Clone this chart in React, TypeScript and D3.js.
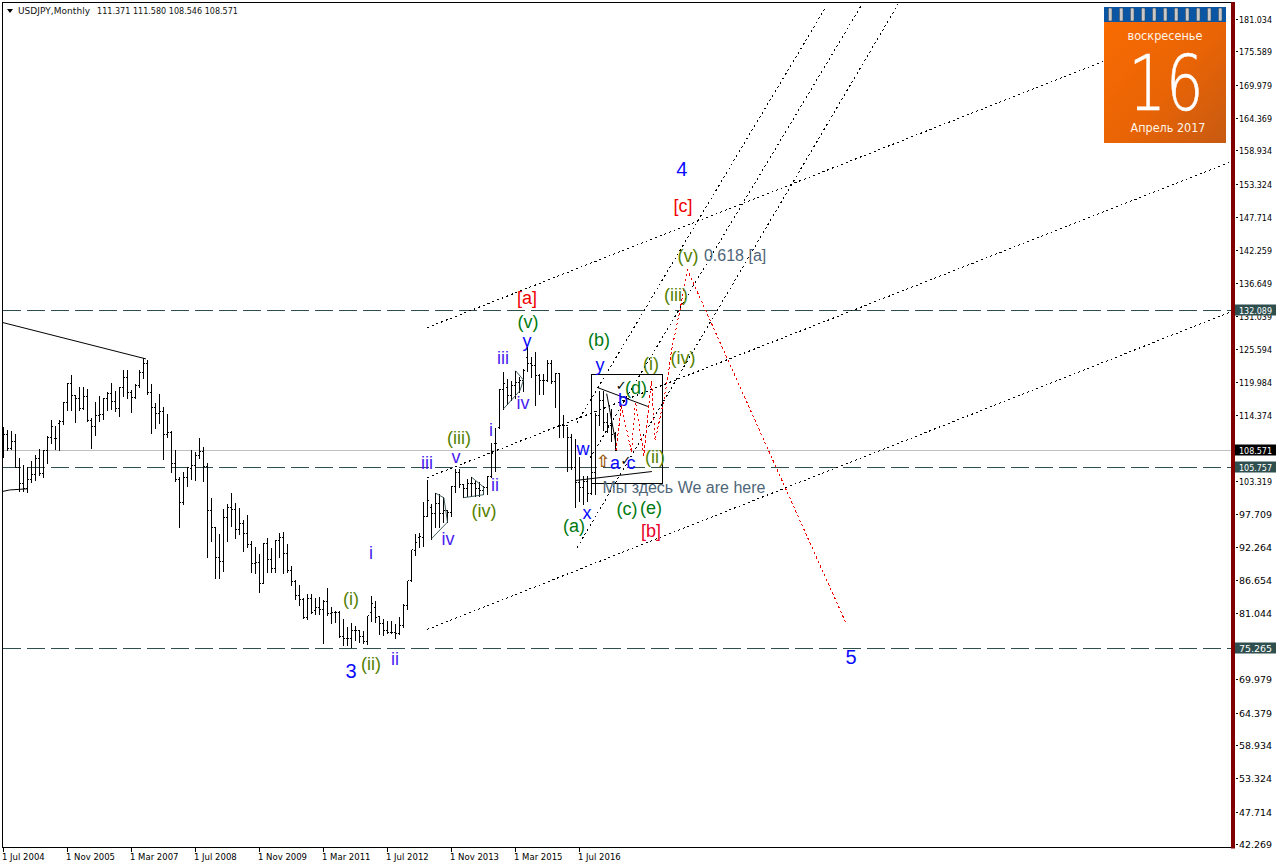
import React from "react";
import * as d3 from "d3";

const W = 1276, H = 868;

// Monthly USDJPY bars, Jul 2004 .. Apr 2017
const highs = [112.57,112.01,111.79,111.34,107.3,106.18,105.73,106.85,107.7,108.82,108.54,111.06,113.7,112.74,113.7,116.67,119.86,121.3,117.79,119.3,119.19,118.8,114.03,116.67,117.79,117.4,118.35,119.86,118.63,119.19,122.16,122.16,118.74,119.75,122.0,124.12,123.68,119.75,116.5,117.96,115.94,114.7,111.79,108.54,104.16,104.89,105.73,108.54,108.26,110.67,109.2,106.41,100.57,95.53,94.52,98.72,99.57,101.47,99.73,98.89,96.87,97.77,93.29,92.39,91.16,93.0,93.85,92.16,93.51,94.63,94.86,92.84,89.19,86.78,86.0,83.75,84.43,84.43,83.75,83.87,83.31,85.44,82.3,81.62,81.51,80.22,78.82,79.6,79.1,78.37,78.26,80.78,84.15,83.2,80.61,80.22,79.94,79.83,79.38,80.5,82.75,86.67,91.72,94.52,94.63,99.85,103.6,99.57,101.36,101.14,100.69,98.44,102.54,105.45,105.45,102.93,103.77,104.05,103.49,103.21,102.65,104.33,109.77,112.35,118.91,121.7,120.6,120.3,121.88,120.87,122.27,125.92,124.24,125.08,121.43,121.43,123.68,123.68,121.55,121.43,114.59,112.46,111.34,110.4,107.5,104.3,104.3,105.5,114.8,118.6,118.6,114.9,115.5,111.58];
const lows = [107.42,108.54,108.82,105.73,101.81,101.7,101.53,103.21,103.6,104.5,104.05,106.41,109.77,108.82,108.54,113.02,115.43,115.38,113.3,115.38,115.55,113.58,108.93,111.23,113.47,113.81,115.43,115.55,115.26,114.26,117.79,117.34,114.98,117.4,119.19,120.76,118.07,111.45,112.35,113.13,107.08,110.78,104.89,103.49,95.64,99.57,102.54,103.72,103.6,107.3,103.38,90.71,93.4,87.06,87.06,88.35,93.4,95.92,93.85,94.52,91.6,92.28,88.07,87.96,84.71,86.22,88.07,88.18,88.07,90.6,87.96,88.07,85.94,83.59,82.63,80.39,80.22,81.17,81.06,81.06,76.13,80.95,79.49,79.66,77.14,75.9,75.9,75.46,76.69,76.3,76.13,76.02,79.94,79.66,77.7,77.59,77.81,77.81,76.97,77.7,78.93,81.9,86.67,90.88,92.39,92.56,97.6,93.68,95.64,95.75,96.48,96.48,97.6,101.53,102.37,100.69,100.97,100.97,100.97,100.97,101.14,101.25,104.16,105.06,112.35,115.55,116.39,116.95,117.4,118.35,118.63,121.88,120.87,116.11,118.07,118.07,120.3,119.86,115.83,110.78,110.89,105.17,105.45,99.0,99.98,99.5,100.1,101.2,101.2,112.9,112.05,111.6,110.1,108.546];
const opens = [111.9,111.17,108.93,110.05,105.73,102.93,102.09,103.6,104.44,107.13,104.72,108.54,110.78,110.5,113.02,113.47,116.55,119.86,117.79,117.23,115.66,117.62,113.58,112.57,114.42,114.59,117.23,118.18,116.78,115.66,119.08,120.76,118.35,117.4,119.47,121.6,123.1,118.35,115.71,114.82,115.15,111.23,111.62,106.29,103.6,99.85,103.94,105.45,106.01,107.7,108.37,105.85,98.44,95.53,90.6,89.92,97.32,98.89,98.56,95.19,96.2,94.63,92.72,89.59,89.75,86.22,92.95,90.15,88.63,93.4,93.85,91.16,88.35,86.56,84.15,83.42,80.39,83.7,81.62,82.07,81.73,83.14,81.06,81.34,81.34,77.25,76.86,76.86,78.26,78.26,77.25,76.41,81.34,82.2,80.61,79.49,78.26,77.98,77.98,77.81,79.1,82.47,86.67,91.72,93.96,93.96,97.43,99.0,97.88,99.57,97.88,98.44,98.16,102.48,104.89,102.82,102.09,102.93,102.93,102.09,101.81,102.37,104.16,109.66,112.35,118.8,119.19,117.79,119.47,120.03,120.3,124.24,123.1,122.83,121.15,120.3,120.3,123.23,120.2,121.43,112.74,112.74,110.78,105.73,103.2,102.4,103.4,101.3,104.8,114.5,116.9,113.2,112.7,111.371];
const closes = [111.17,108.93,110.05,105.73,102.93,102.09,103.6,104.44,107.13,104.72,108.54,110.78,112.57,110.5,113.47,116.55,119.86,117.79,117.23,115.66,117.62,113.58,112.57,114.42,114.59,117.23,118.18,116.78,115.66,119.08,120.76,118.35,117.4,119.47,121.6,123.1,118.35,115.71,114.82,115.15,111.23,111.62,106.29,103.6,99.85,103.94,105.73,106.01,107.7,108.37,105.85,98.44,95.53,90.6,89.92,97.32,98.89,98.56,95.19,96.2,94.63,92.72,89.59,89.75,86.22,92.95,90.15,88.63,93.4,93.85,91.16,88.35,86.56,84.15,83.42,80.39,83.7,81.34,82.07,81.73,83.14,81.06,81.34,81.34,77.25,76.86,76.86,78.26,78.26,77.25,76.41,80.78,82.75,80.5,79.49,78.26,77.98,77.98,77.81,79.1,82.47,86.67,91.83,93.12,94.07,97.43,100.13,97.88,99.57,97.88,98.44,98.16,102.48,104.89,102.82,102.09,102.93,102.93,102.09,101.81,102.37,104.16,107.98,109.66,118.8,119.75,117.79,119.47,120.03,120.3,122.0,123.1,122.83,121.15,120.3,120.3,123.23,120.2,121.43,112.74,112.74,110.78,105.73,103.2,102.4,103.4,101.3,104.8,114.5,116.9,113.2,112.7,111.3,108.571];

const priceTicks = [181.034,175.589,169.979,164.369,158.934,153.324,147.714,142.259,136.649,131.039,125.594,119.984,114.374,108.764,103.319,97.709,92.264,86.654,81.044,75.6,69.979,64.379,58.934,53.324,47.714,42.269];
const dateLabels = ["1 Jul 2004","1 Nov 2005","1 Mar 2007","1 Jul 2008","1 Nov 2009","1 Mar 2011","1 Jul 2012","1 Nov 2013","1 Mar 2015","1 Jul 2016"];
const levels = [132.089,105.757,75.265];
const lastPrice = 108.571;

// annotations, all [bar index, price]
const channelLines = [
  [[105.9,129.2],[274.9,173.97]],
  [[105.9,103.97],[307.1,157.15]],
  [[105.9,78.43],[307.1,131.92]],
  [[143.4,113.25],[205.5,183.05]],
  [[146.6,107.2],[214.6,183.56]],
  [[143.4,92.2],[223.6,183.56]],
];
const redPath = [[153.1,108.54],[154.5,116.1],[157,108.25],[158,116.67],[160.1,107.7],[162,120.3],[162.9,110.2],[164.9,116.45],[166.1,120.8],[167,125.36],[169.1,132.1],[171,138.9],[210.9,79.1]];
const solidLines = [
  [[-0.25,130.07],[35.6,123.95]],
  [[-0.25,101.65],[1.5,101.9],[6,102.1]],
  [[148.6,119.1],[161.1,115.94]],
  [[143.05,103.5],[162.1,105.0]],
  [[150.8,118.1],[153.1,109.7]],
];
const triangles = [
  [[108.05,101.36],[110.1,100.58],[111,96.5],[107,93.7]],
  [[117,104.05],[120,102.4],[120,101.1],[115,100.6]],
  [[128,121.97],[130,120.4],[129.1,118.6],[125,115.55]],
];
const boxCorners = [[147.05,121.32],[164.9,102.94]];

const BLUE = "#0a0aff", VIOLET = "#4a22f0", GREEN = "#007a10", OLIVE = "#567f00", RED = "#f00000", SLATE = "#4f6678";
const waveLabels: [string, number, number, string, number][] = [
  ["4",169.6,155.9,BLUE,20],["[c]",169.9,149.7,RED,18],["(v)",171.1,141.3,OLIVE,18],["0.618 [a]",182.9,141.4,SLATE,16],
  ["(iii)",168.1,134.7,OLIVE,18],["[a]",130.9,134.2,RED,18],["(v)",131.1,130.2,GREEN,18],["(b)",148.9,127.1,GREEN,18],
  ["y",149.1,123.0,BLUE,18],["iii",124.9,124.1,VIOLET,18],["y",130.9,127.0,BLUE,18],["iv",129.9,116.5,VIOLET,18],
  ["(iv)",169.9,124.1,OLIVE,18],["(i)",161.9,123.1,OLIVE,18],["(d)",158.1,119.1,GREEN,18],["b",154.9,117.05,BLUE,18],
  ["w",144.9,108.8,BLUE,18],["a",152.9,106.45,BLUE,18],["c",156.9,106.45,BLUE,18],["(ii)",162.9,107.5,OLIVE,18],
  ["(iii)",113.9,110.7,OLIVE,18],["v",113.1,107.5,VIOLET,18],["iii",105.9,106.45,VIOLET,18],["i",121.9,112.0,VIOLET,18],
  ["ii",122.9,102.75,VIOLET,18],["(iv)",120.1,98.4,OLIVE,18],["iv",111.1,93.7,VIOLET,18],["(a)",142.6,95.9,GREEN,18],
  ["x",145.9,98.0,BLUE,18],["(c)",155.9,98.7,GREEN,18],["(e)",161.9,98.9,GREEN,18],["[b]",161.9,95.0,"#e8002a",18],
  ["Мы здесь We are here",170.1,102.25,SLATE,16],["i",91.9,91.3,VIOLET,18],["(i)",86.9,83.6,OLIVE,18],["(ii)",91.9,72.65,OLIVE,18],
  ["ii",97.9,73.5,VIOLET,18],["3",86.9,71.4,BLUE,20],["5",211.9,73.8,BLUE,20],
];
const marks: [string, number, number, string, number][] = [
  ["✓",154.4,119.47,"#000",13],["✓",155.6,106.86,"#000",13],["⇧",149.9,106.85,"#9a5a10",17],
];
const ringCount = d3.range(11);

const x = d3.scaleLinear().domain([0, 153]).range([3.5, 615.5]);
const y = d3.scaleLinear().domain([42.269, 181.034]).range([844.5, 19.5]);
const snap = (v: number) => Math.round(v - 0.5) + 0.5;
const lineGen = d3.line<number[]>().x(d => x(d[0])).y(d => y(d[1]));

const UI = "'DejaVu Sans', sans-serif";
const UIC = "'DejaVu Sans Condensed', 'DejaVu Sans', sans-serif";
const LAB = "'Liberation Sans', Arial, sans-serif";
const RIGHT = 1232, BOTTOM = 847.5;

export default function App() {
  const barPath = highs.map((h, i) => {
    const cx = x(i);
    const o = snap(y(opens[i])), c = snap(y(closes[i]));
    return `M${cx},${Math.round(y(h))}V${Math.round(y(lows[i])) + 1}M${cx - 1.5},${o}H${cx}M${cx},${c}H${cx + 1.5}`;
  }).join("");

  const [b0, b1] = boxCorners;
  return (
    <svg width={W} height={H} viewBox={`0 0 ${W} ${H}`}
      style={{ position: "fixed", left: 0, top: 0, background: "#fff", display: "block" }}>
      <defs>
        <clipPath id="plot"><rect x={2} y={2} width={RIGHT - 2} height={BOTTOM - 2} /></clipPath>
        <linearGradient id="cal" x1="0" y1="0" x2="1" y2="1">
          <stop offset="0" stopColor="#fb6c02" />
          <stop offset="0.55" stopColor="#e96405" />
          <stop offset="1" stopColor="#c75a12" />
        </linearGradient>
      </defs>

      <g clipPath="url(#plot)">
        <line x1={2} x2={RIGHT} y1={snap(y(lastPrice))} y2={snap(y(lastPrice))} stroke="#c0c0c0" shapeRendering="crispEdges" />
        {levels.map(l => (
          <line key={l} x1={3} x2={RIGHT} y1={snap(y(l))} y2={snap(y(l))} stroke="#2f4f4f" strokeDasharray="18 6" shapeRendering="crispEdges" />
        ))}
        <path d={barPath} fill="none" stroke="#000" strokeWidth={1} shapeRendering="crispEdges" />
        {channelLines.map((l, i) => (
          <path key={i} d={lineGen(l) || ""} fill="none" stroke="#000" strokeWidth={1} strokeDasharray="2 3" shapeRendering="crispEdges" />
        ))}
        {solidLines.map((l, i) => (
          <path key={i} d={lineGen(l) || ""} fill="none" stroke="#000" strokeWidth={1} />
        ))}
        {triangles.map((l, i) => (
          <path key={i} d={lineGen(l) || ""} fill="none" stroke="#2f4f4f" strokeWidth={0.9} />
        ))}
        <rect x={snap(x(b0[0]))} y={snap(y(b0[1]))} width={Math.round(x(b1[0]) - x(b0[0]))} height={Math.round(y(b1[1]) - y(b0[1]))}
          fill="none" stroke="#000" shapeRendering="crispEdges" />
        <path d={lineGen(redPath) || ""} fill="none" stroke="#f00000" strokeWidth={1} strokeDasharray="2.5 2.5" shapeRendering="crispEdges" />
        {waveLabels.map(([t, b, p, col, fs], i) => (
          <text key={i} x={x(b)} y={y(p)} fill={col} fontSize={fs} fontFamily={LAB} textAnchor="middle" dominantBaseline="central">{t}</text>
        ))}
        {marks.map(([t, b, p, col, fs], i) => (
          <text key={i} x={x(b)} y={y(p)} fill={col} fontSize={fs} fontFamily={UI} fontWeight="bold" textAnchor="middle" dominantBaseline="central">{t}</text>
        ))}
      </g>

      {/* frame */}
      <line x1={2} x2={RIGHT} y1={2.5} y2={2.5} stroke="#000" strokeWidth={1} shapeRendering="crispEdges" />
      <line x1={2.5} x2={2.5} y1={2} y2={BOTTOM} stroke="#000" strokeWidth={1} shapeRendering="crispEdges" />
      <line x1={2} x2={RIGHT} y1={BOTTOM} y2={BOTTOM} stroke="#000" strokeWidth={1} shapeRendering="crispEdges" />
      <rect x={RIGHT - 1} y={2} width={4} height={BOTTOM - 1} fill="#800000" />

      {/* header */}
      <path d="M7,9H13L10,13Z" fill="#000" />
      <text x={18} y={10.5} fontSize={9} fontFamily={UI} textLength={72} dominantBaseline="central" fill="#111">USDJPY,Monthly</text>
      <text x={97} y={10.5} fontSize={9} fontFamily={UI} textLength={141} lengthAdjust="spacingAndGlyphs" dominantBaseline="central" fill="#111">111.371 111.580 108.546 108.571</text>

      {/* price axis */}
      {priceTicks.map(t => (
        <g key={t}>
          <line x1={1236} x2={1238} y1={snap(y(t))} y2={snap(y(t))} stroke="#000" shapeRendering="crispEdges" />
          <text x={1239} y={y(t) + 0.5} fontSize={9} fontFamily={UIC} textLength={33} lengthAdjust="spacingAndGlyphs" dominantBaseline="central" fill="#000">{t.toFixed(3)}</text>
        </g>
      ))}
      {levels.map(l => (
        <g key={l}>
          <rect x={1235} y={Math.round(y(l)) - 5.5} width={41} height={11} fill="#2f4f4f" />
          <text x={1239} y={y(l) + 0.5} fontSize={9} fontFamily={UIC} textLength={33} lengthAdjust="spacingAndGlyphs" dominantBaseline="central" fill="#fff">{l.toFixed(3)}</text>
        </g>
      ))}
      <rect x={1235} y={Math.round(y(lastPrice)) - 5.5} width={41} height={11} fill="#000" />
      <text x={1239} y={y(lastPrice) + 0.5} fontSize={9} fontFamily={UIC} textLength={33} lengthAdjust="spacingAndGlyphs" dominantBaseline="central" fill="#fff">{lastPrice.toFixed(3)}</text>

      {/* time axis */}
      {dateLabels.map((d, i) => {
        const px = Math.floor(x(i * 16));
        return (
          <g key={d}>
            <line x1={px + 0.5} x2={px + 0.5} y1={848} y2={852} stroke="#000" shapeRendering="crispEdges" />
            <text x={px - 1} y={857} fontSize={8.5} fontFamily={UI} dominantBaseline="central" fill="#000">{d}</text>
          </g>
        );
      })}

      {/* calendar */}
      <rect x={1104} y={7} width={122} height={136} fill="url(#cal)" />
      <rect x={1104} y={7} width={122} height={15} fill="#0b56a4" />
      {ringCount.map(i => (
        <rect key={i} x={1108.5 + i * 11} y={8} width={3.5} height={13} rx={1.2} fill="#c9c9c9" stroke="#444" strokeWidth={0.5} />
      ))}
      <text x={1165} y={35.5} fontSize={12} fontFamily={UI} textAnchor="middle" textLength={75} lengthAdjust="spacingAndGlyphs" dominantBaseline="central" fill="#fff4e6">воскресенье</text>
      <text x={1166} y={110} fontSize={76} fontFamily={UI} fontWeight={200} textAnchor="middle" textLength={75} lengthAdjust="spacingAndGlyphs" fill="#fff" stroke="#fff" strokeWidth={0.6}>16</text>
      <text x={1168} y={127.5} fontSize={12} fontFamily={UI} textAnchor="middle" textLength={75} lengthAdjust="spacingAndGlyphs" dominantBaseline="central" fill="#fff4e6">Апрель 2017</text>
    </svg>
  );
}
